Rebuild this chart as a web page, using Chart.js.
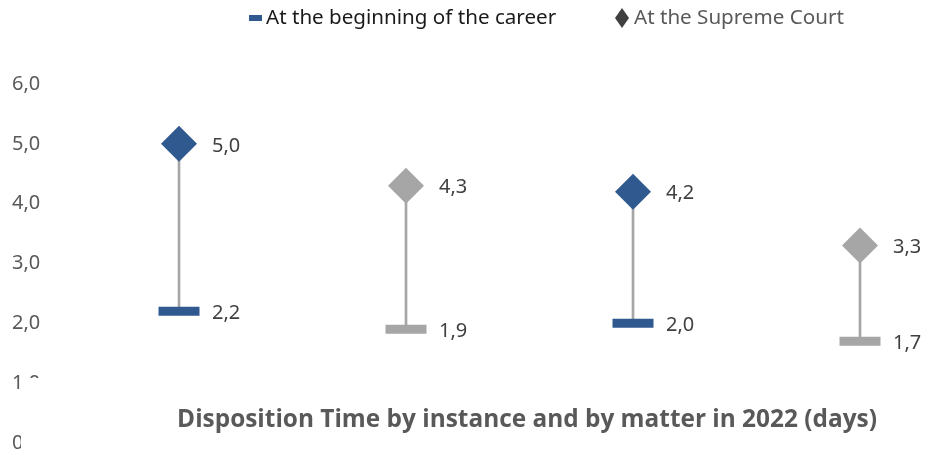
<!DOCTYPE html>
<html>
<head>
<meta charset="utf-8">
<script src="https://cdn.jsdelivr.net/npm/chart.js@4"></script>
<style>
  body { margin: 0; background: #fff; }
  #wrap { width: 940px; height: 459px; }
</style>
</head>
<body>
<div id="wrap"><canvas id="myChart"></canvas></div>
<script>
// data
let categories = ["Instance 1", "Instance 2", "Instance 3", "Instance 4"];
let beginningValues = [2.2, 1.9, 2.0, 1.7];
let supremeValues = [5.0, 4.3, 4.2, 3.3];
let yTicks = [0, 1, 2, 3, 4, 5, 6];

let legendLabels = ["At the beginning of the career", "At the Supreme Court"];
let chartTitle = "Disposition Time by instance and by matter in 2022 (days)";

let blue = "#30598f";
let gray = "#a6a6a6";
let pointColors = [blue, gray, blue, gray];

const fmt = (v) => v.toFixed(1).replace(".", ",");

let beginPoints = [];
let supremePoints = [];
let ranges = [];
for (let i = 0; i < categories.length; i++) {
  beginPoints.push({ x: i, y: beginningValues[i] });
  supremePoints.push({ x: i, y: supremeValues[i] });
  ranges.push({ x: i, y: [beginningValues[i], supremeValues[i]] });
}

// value labels to the right of each marker
const valueLabels = {
  id: "valueLabels",
  afterDatasetsDraw(chart) {
    const ctx = chart.ctx;
    ctx.save();
    ctx.font = "20px 'Noto Sans'";
    ctx.fillStyle = "#404040";
    ctx.textAlign = "left";
    ctx.textBaseline = "middle";
    [1, 2].forEach((di) => {
      const meta = chart.getDatasetMeta(di);
      meta.data.forEach((pt, i) => {
        const v = chart.data.datasets[di].data[i].y;
        ctx.fillText(fmt(v), pt.x + 33, pt.y + 2);
      });
    });
    ctx.restore();
  },
};

// legend + title drawn on top (title box covers the bottom ticks)
const overlay = {
  id: "overlay",
  afterDraw(chart) {
    const ctx = chart.ctx;
    ctx.save();
    ctx.fillStyle = "#fff";
    ctx.fillRect(21, 378, 940, 100);

    ctx.font = "bold 24.4px 'Open Sans'";
    ctx.fillStyle = "#595959";
    ctx.textAlign = "center";
    ctx.textBaseline = "middle";
    ctx.fillText(chartTitle, 527, 420);

    // legend
    ctx.textAlign = "left";
    ctx.font = "20.6px 'Noto Sans'";
    ctx.fillStyle = blue;
    ctx.fillRect(249, 15, 13, 6);
    ctx.fillStyle = "#1a1a1a";
    ctx.fillText(legendLabels[0], 266, 18);

    ctx.fillStyle = "#404040";
    ctx.beginPath();
    ctx.moveTo(622, 8);
    ctx.lineTo(629, 18);
    ctx.lineTo(622, 28);
    ctx.lineTo(615, 18);
    ctx.closePath();
    ctx.fill();
    ctx.fillStyle = "#595959";
    ctx.fillText(legendLabels[1], 634, 18);
    ctx.restore();
  },
};

let ctx = document.getElementById("myChart").getContext("2d");
let myChart = new Chart(ctx, {
  data: {
    datasets: [
      {
        type: "bar",
        label: "range",
        data: ranges,
        backgroundColor: "#a6a6a6",
        barThickness: 2,
        order: 3,
      },
      {
        type: "line",
        label: legendLabels[0],
        data: beginPoints,
        showLine: false,
        pointStyle: "line",
        pointRadius: 20.5,
        pointHoverRadius: 20.5,
        pointBorderWidth: 9,
        pointHoverBorderWidth: 9,
        pointBorderColor: pointColors,
        pointBackgroundColor: pointColors,
        order: 2,
      },
      {
        type: "line",
        label: legendLabels[1],
        data: supremePoints,
        showLine: false,
        pointStyle: "rectRot",
        pointRadius: 18,
        pointHoverRadius: 18,
        pointBorderWidth: 0,
        pointBackgroundColor: pointColors,
        pointBorderColor: pointColors,
        order: 1,
      },
    ],
  },
  options: {
    responsive: true,
    maintainAspectRatio: false,
    animation: false,
    events: [],
    layout: {
      autoPadding: false,
      padding: { top: 84, bottom: 16, left: 12, right: 0 },
    },
    plugins: {
      legend: { display: false },
      tooltip: { enabled: false },
    },
    scales: {
      x: {
        type: "linear",
        display: false,
        offset: false,
        min: -0.5463,
        max: 3.3524,
      },
      y: {
        min: 0,
        max: 6,
        afterFit: (s) => { s.width = 43; },
        afterBuildTicks: (s) => { s.ticks = yTicks.map((v) => ({ value: v })); },
        border: { display: false },
        grid: { display: false },
        ticks: {
          crossAlign: "far",
          color: "#595959",
          font: { family: "'Noto Sans'", size: 20 },
          callback: (v) => fmt(v),
        },
      },
    },
  },
  plugins: [valueLabels, overlay],
});
</script>
</body>
</html>
